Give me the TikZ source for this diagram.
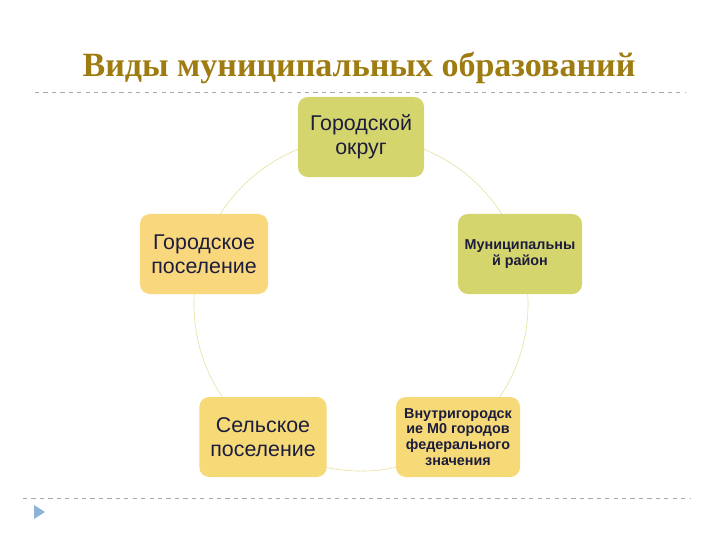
\documentclass[tikz,border=0pt]{standalone}
\usepackage{fontspec}
\setmainfont{Liberation Sans}
\newfontfamily\titlefont{Liberation Serif}
\usetikzlibrary{positioning}
\definecolor{muntitle}{HTML}{9E7C12}
\definecolor{munolive}{HTML}{D5D56E}
\definecolor{munorange}{HTML}{F9D77D}
\definecolor{munyellow}{HTML}{F6DA78}
\definecolor{munring}{HTML}{E3DF98}
\definecolor{muntext}{HTML}{1C1C3C}
\definecolor{munrule}{HTML}{A8A8A8}
\definecolor{munarrow}{HTML}{8FB2D8}

\begin{document}
\begin{tikzpicture}[x=0.025cm, y=-0.025cm,
  unitbox/.style={rounded corners=7pt, inner sep=2pt, align=center,
    text=muntext, minimum height=2cm},
  bigtxt/.style={font=\fontsize{15.2}{17}\selectfont},
  smalltxt/.style={font=\bfseries\fontsize{10.2}{11.3}\selectfont}]
  \useasboundingbox (0,0) rectangle (720,540);
  % title and rules
  \node[text=muntitle, font=\titlefont\bfseries\fontsize{24.2}{28}\selectfont] (title) at (359,68) {Виды муниципальных образований};
  \draw[munrule, dashed, thin] (35,92) -- (685,92);
  \draw[munrule, dashed, thin] (23,498) -- (690,498);
  \fill[munarrow] (34,505) -- (45,512) -- (34,519) -- cycle;
  % ring behind the boxes
  \coordinate (hub) at (361,304);
  \draw[munring, thin] (hub) circle (4.175cm);
  % the five kinds
  \node[unitbox, bigtxt, fill=munolive, minimum width=3.15cm] (okrug) at (361,137) {Городской\\округ};
  \node[unitbox, bigtxt, fill=munorange, minimum width=3.2cm] (gorpos) at (204,254) {Городское\\поселение};
  \node[unitbox, smalltxt, fill=munolive, minimum width=3.1cm] (rayon) at (520,254) {Муниципальны\\й район};
  \node[unitbox, bigtxt, fill=munyellow, minimum width=3.18cm] (selpos) at (263,437) {Сельское\\поселение};
  \node[unitbox, smalltxt, fill=munyellow, minimum width=3.1cm] (vnutr) at (458,437) {Внутригородск\\ие М0 городов\\федерального\\значения};
\end{tikzpicture}
\end{document}
